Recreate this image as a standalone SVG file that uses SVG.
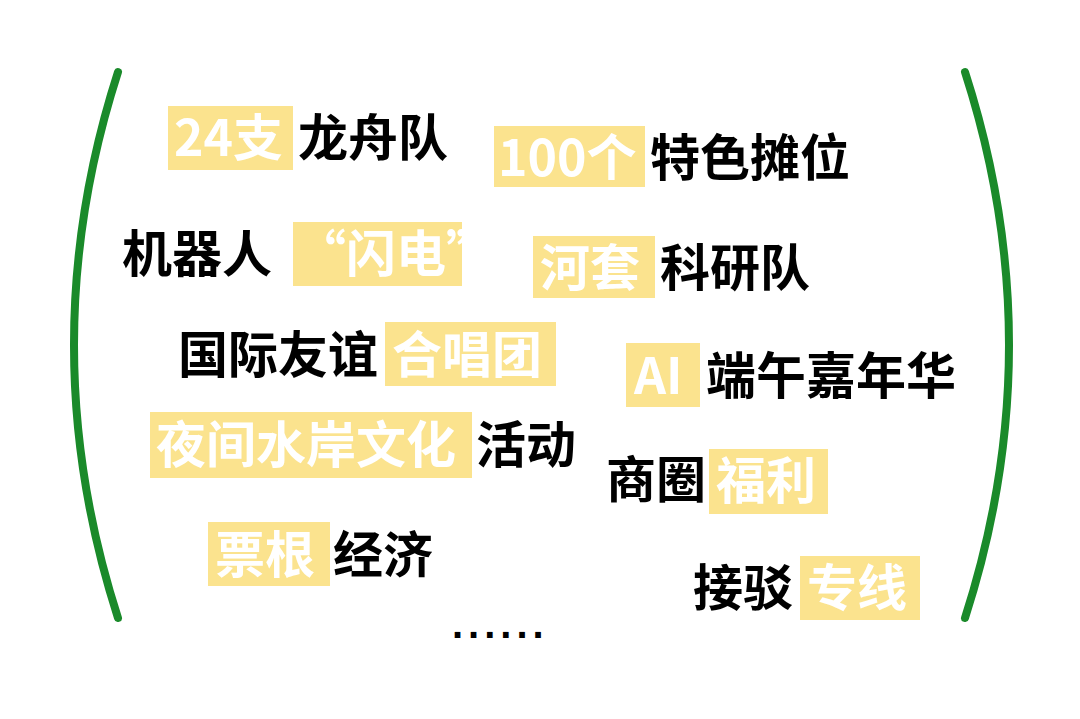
<svg xmlns="http://www.w3.org/2000/svg" width="1080" height="719" viewBox="0 0 1080 719">
<style>
.b{fill:#fbe38e}
text{font-family:"Noto Sans CJK SC","Noto Sans",sans-serif;font-size:50px;font-weight:bold}
.w{fill:#ffffff}
.k{fill:#000000}
.p{fill:none;stroke:#1a8a2a;stroke-width:8;stroke-linecap:round}
</style>
<rect width="1080" height="719" fill="#ffffff"/>
<path class="p" d="M118,72 Q30,345 118,618"/>
<path class="p" d="M965,72 Q1053,345 965,618"/>
<g id="r1"><rect class="b" x="168" y="106" width="125" height="64"/><text class="w" x="174" y="156">24支</text><text class="k" x="298" y="156">龙舟队</text></g>
<g id="r2"><rect class="b" x="494" y="126" width="151" height="61"/><text class="w" x="498" y="176">100个</text><text class="k" x="650" y="176">特色摊位</text></g>
<g id="r3"><text class="k" x="122" y="272">机器人</text><rect class="b" x="293" y="222" width="169" height="64"/><text class="w" x="296" y="272">“闪电”</text></g>
<g id="r4"><rect class="b" x="533" y="236" width="122" height="62"/><text class="w" x="540" y="286">河套</text><text class="k" x="660" y="286">科研队</text></g>
<g id="r5"><text class="k" x="178" y="373">国际友谊</text><rect class="b" x="385" y="322" width="171" height="64"/><text class="w" x="392" y="373">合唱团</text></g>
<g id="r6"><rect class="b" x="626" y="343" width="74" height="64"/><text class="w" x="634" y="394">AI</text><text class="k" x="706" y="394">端午嘉年华</text></g>
<g id="r7"><rect class="b" x="150" y="412" width="322" height="66"/><text class="w" x="156" y="463">夜间水岸文化</text><text class="k" x="476" y="463">活动</text></g>
<g id="r8"><text class="k" x="606" y="498">商圈</text><rect class="b" x="709" y="449" width="119" height="65"/><text class="w" x="716" y="499">福利</text></g>
<g id="r9"><rect class="b" x="208" y="522" width="122" height="64"/><text class="w" x="215" y="573">票根</text><text class="k" x="333" y="573">经济</text></g>
<g id="r10"><text class="k" x="693" y="606">接驳</text><rect class="b" x="800" y="556" width="120" height="64"/><text class="w" x="807" y="606">专线</text></g>
<text class="k" x="452" y="638" style="font-family:'Liberation Sans',sans-serif;font-size:40px;letter-spacing:5px">......</text>
</svg>
